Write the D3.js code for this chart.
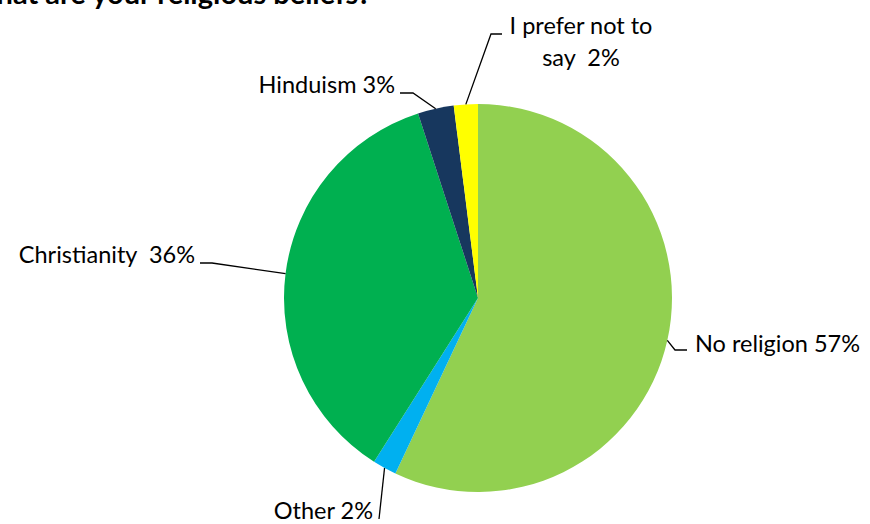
<!DOCTYPE html>
<html>
<head>
<meta charset="utf-8">
<script src="https://cdn.jsdelivr.net/npm/d3@7"></script>
<style>
  html, body { margin: 0; padding: 0; background: #fff; }
  svg { display: block; }
  text { font-family: Lato, "Open Sans", sans-serif; fill: #000; white-space: pre; }
</style>
</head>
<body>
<svg id="chart" width="870" height="524"></svg>
<script>
// Survey answers, clockwise from 12 o'clock
const categories = ["No religion", "Other", "Christianity", "Hinduism", "I prefer not to say"];
const values = [57, 2, 36, 3, 2];
const colors = ["#92D050", "#00B0F0", "#00B050", "#17375E", "#FFFF00"];
const titleText = "What are your religious beliefs?";

// Label placement: elbow point, line end, text anchor and lines of text
const labelLayout = [
  { elbow: [675, 350], end: [687, 350], text: [695, 352], anchor: "start", lines: ["No religion 57%"] },
  { elbow: [379, 519], end: [379, 519], text: [373, 519], anchor: "end", lines: ["Other 2%"] },
  { elbow: [212, 263], end: [200, 263], text: [195, 263], anchor: "end", lines: ["Christianity  36%"] },
  { elbow: [413, 93], end: [400, 93], text: [395, 93], anchor: "end", lines: ["Hinduism 3%"] },
  { elbow: [491, 34], end: [502, 34], text: [581, 34], anchor: "middle", lines: ["I prefer not to", "say  2%"] }
];

const svg = d3.select("#chart");
const cx = 478, cy = 298, radius = 194;
const fontSize = 23.5;

svg.append("text")
  .attr("x", 371).attr("y", 4)
  .attr("text-anchor", "end")
  .attr("font-weight", "bold")
  .attr("font-size", 29)
  .text(titleText);

const data = categories.map((c, i) => ({ category: c, value: values[i], color: colors[i], layout: labelLayout[i] }));

const pie = d3.pie().value(d => d.value).sort(null);
const arcs = pie(data);
const arc = d3.arc().innerRadius(0).outerRadius(radius);
const edgeArc = d3.arc().innerRadius(radius).outerRadius(radius);

const g = svg.append("g").attr("transform", `translate(${cx},${cy})`);

g.selectAll("path.slice")
  .data(arcs)
  .join("path")
  .attr("class", "slice")
  .attr("d", arc)
  .attr("fill", d => d.data.color);

// Leader lines from slice edge to the label
svg.selectAll("polyline.leader")
  .data(arcs)
  .join("polyline")
  .attr("class", "leader")
  .attr("fill", "none")
  .attr("stroke", "#000")
  .attr("stroke-width", 1.3)
  .attr("points", d => {
    const [sx, sy] = edgeArc.centroid(d);
    const L = d.data.layout;
    return [[sx + cx, sy + cy], L.elbow, L.end].map(p => p.join(",")).join(" ");
  });

const labels = svg.selectAll("text.label")
  .data(arcs)
  .join("text")
  .attr("class", "label")
  .attr("font-size", fontSize)
  .attr("text-anchor", d => d.data.layout.anchor)
  .attr("x", d => d.data.layout.text[0])
  .attr("y", d => d.data.layout.text[1]);

labels.each(function(d) {
  const t = d3.select(this);
  d.data.layout.lines.forEach((line, i) => {
    t.append("tspan")
      .attr("x", d.data.layout.text[0])
      .attr("dy", i === 0 ? 0 : 32)
      .text(line);
  });
});
</script>
</body>
</html>
